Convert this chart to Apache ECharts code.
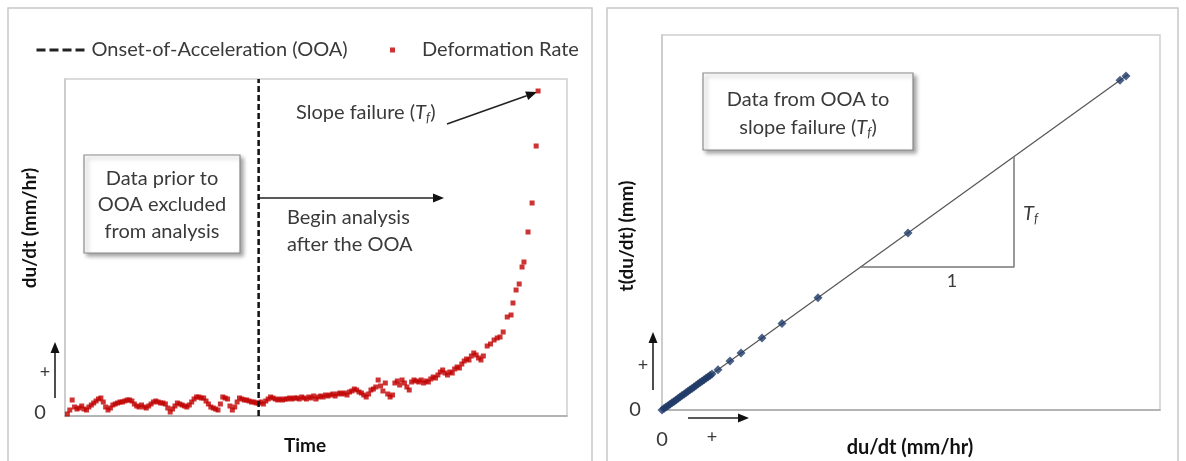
<!DOCTYPE html>
<html>
<head>
<meta charset="utf-8">
<script src="https://cdn.jsdelivr.net/npm/echarts@6/dist/echarts.min.js"></script>
<style>
  html, body { margin: 0; padding: 0; background: #fff; }
  #chart { width: 1186px; height: 461px; }
</style>
</head>
<body>
<div id="chart"></div>
<script>
// left panel: deformation rate vs time (time in steps, rate in relative units)
const ooaTime = 81
const rateDense = [ // t = 1 .. 175
  2, 6, 16, 9, 7, 8, 10, 7, 6, 9, 11, 13, 15, 17, 18, 14, 9, 6, 8, 11,
  12, 13, 14, 14, 15, 16, 16, 15, 12, 10, 9, 11, 9, 8, 10, 12, 14, 15, 14, 13,
  13, 12, 8, 4, 7, 10, 13, 12, 11, 10, 9, 11, 14, 17, 19, 19, 18, 18, 15, 12,
  9, 8, 7, 6, 12, 19, 18, 17, 10, 6, 9, 14, 18, 17, 16, 16, 15, 14, 14, 13,
  13, 14, 12, 15, 17, 19, 18, 17, 16, 17, 16, 17, 17, 18, 17, 18, 18, 17, 19, 18,
  17, 19, 18, 20, 17, 19, 20, 19, 21, 20, 21, 22, 20, 22, 23, 22, 23, 21, 24, 25,
  27, 26, 24, 23, 21, 19, 22, 26, 27, 29, 36, 30, 25, 33, 22, 19, 21, 33, 35, 31,
  36, 33, 29, 26, 34, 36, 35, 34, 36, 33, 35, 34, 37, 39, 38, 41, 44, 46, 43, 41,
  44, 43, 47, 49, 48, 52, 55, 57, 56, 60, 63, 61, 58, 56, 60
]
const tailTime = [176.6, 178, 179.5, 180.8, 182, 183.3, 185, 186.6, 187.4, 188.7, 190, 191.2, 192, 193.7, 195.4, 197.1, 197.9]
const tailRate = [70, 72, 76, 78, 79, 84, 99, 101, 113, 126, 132, 149, 154, 184, 213, 270, 325]

// right panel: t(du/dt) vs du/dt
const rightX = [0, 2, 4, 6, 8, 10, 12, 14, 16, 18, 20, 22, 24, 26, 28, 30, 32, 34, 36, 38, 40, 42, 44, 46, 48, 50, 56, 68, 79, 100, 120, 156, 246, 458, 464]
const rightY = [0, 1.4, 2.9, 4.3, 5.8, 7.2, 8.6, 10.1, 11.5, 13, 14.4, 15.8, 17.3, 18.7, 20.2, 21.6, 23, 24.5, 25.9, 27.4, 28.8, 30.2, 31.7, 33.1, 34.6, 36, 40.3, 49, 56.9, 72, 86.4, 112.3, 177.1, 329.8, 334.1]
const trendX = [0, 466]
const trendY = [0, 335.5]
const triX = [198, 352, 352]
const triY = [143, 143, 253.4]

const FONT = 'Lato'
const rateData = rateDense.map((v, i) => [i + 1, v]).concat(tailTime.map((t, i) => [t, tailRate[i]]))
const rightData = rightX.map((x, i) => [x, rightY[i]])

function arrow(x1, y1, x2, y2) {
  const a = Math.atan2(y2 - y1, x2 - x1), L = 11, W = 4.5
  const bx = x2 - L * Math.cos(a), by = y2 - L * Math.sin(a)
  return [
    { type: 'line', shape: { x1, y1, x2: bx, y2: by }, style: { stroke: '#222', lineWidth: 1.6 } },
    { type: 'polygon', shape: { points: [[x2, y2], [bx - W * Math.sin(a), by + W * Math.cos(a)], [bx + W * Math.sin(a), by - W * Math.cos(a)]] }, style: { fill: '#111' } }
  ]
}
function txt(x, y, text, extra, rot) {
  return { type: 'text', x, y, rotation: rot || 0, style: Object.assign({ text, font: '20px ' + FONT, fill: '#3a3a3a', align: 'center', verticalAlign: 'middle' }, extra || {}) }
}
function box(x, y, w, h) {
  return { type: 'rect', shape: { x, y, width: w, height: h }, style: { fill: '#fff', stroke: '#8a8a8a', lineWidth: 1.2, shadowBlur: 4, shadowOffsetX: 3, shadowOffsetY: 3, shadowColor: 'rgba(0,0,0,0.35)' } }
}
function tf(x, y, prefix, align) {
  return { type: 'text', x, y, style: {
    text: (prefix ? '{a|' + prefix + '(}' : '') + '{i|T}{s|f}' + (prefix ? '{a|)}' : ''), align: align || 'left', verticalAlign: 'middle',
    rich: { a: { font: '20px ' + FONT, fill: '#3a3a3a' }, i: { font: 'italic 20px ' + FONT, fill: '#3a3a3a' },
            s: { font: 'italic 13px ' + FONT, fill: '#3a3a3a', padding: [9, 0, 0, 0] } } } }
}

const chart = echarts.init(document.getElementById('chart'))
chart.setOption({
  animation: false,
  legend: [
    { data: [{ name: 'Onset-of-Acceleration (OOA)', itemStyle: { opacity: 0 } }], left: 30, top: 35, itemWidth: 52, itemHeight: 14,
      lineStyle: { width: 3, type: [9, 4], color: '#222' }, itemGap: 0,
      textStyle: { fontFamily: FONT, fontSize: 20, color: '#3a3a3a', padding: [0, 0, 0, -2] } },
    { data: [{ name: 'Deformation Rate', icon: 'rect' }], left: 385, top: 35, itemWidth: 5, itemHeight: 5,
      textStyle: { fontFamily: FONT, fontSize: 20, color: '#3a3a3a', padding: [0, 0, 0, 22] } }
  ],
  grid: [
    { left: 65, top: 79, width: 502, height: 337, show: true, borderColor: '#cfcfcf', borderWidth: 1.5 },
    { left: 662, top: 35, width: 498, height: 375, show: true, borderColor: '#cfcfcf', borderWidth: 1.5 }
  ],
  xAxis: [
    { gridIndex: 0, type: 'value', min: 0, max: 210, axisLine: { lineStyle: { color: '#a8a8a8', width: 1.5 } },
      axisTick: { show: false }, axisLabel: { show: false }, splitLine: { show: false } },
    { gridIndex: 1, type: 'value', min: 0, max: 498, axisLine: { lineStyle: { color: '#a8a8a8', width: 1.5 } },
      axisTick: { show: false }, axisLabel: { show: false }, splitLine: { show: false } }
  ],
  yAxis: [
    { gridIndex: 0, type: 'value', min: 0, max: 337, axisLine: { show: true, lineStyle: { color: '#c8c8c8', width: 1.5 } },
      axisTick: { show: false }, axisLabel: { show: false }, splitLine: { show: false } },
    { gridIndex: 1, type: 'value', min: 0, max: 375, axisLine: { show: true, lineStyle: { color: '#c8c8c8', width: 1.5 } },
      axisTick: { show: false }, axisLabel: { show: false }, splitLine: { show: false } }
  ],
  series: [
    {
      name: 'Onset-of-Acceleration (OOA)', type: 'line', xAxisIndex: 0, yAxisIndex: 0,
      symbol: 'none', data: [[ooaTime, 0], [ooaTime, 337]],
      lineStyle: { color: '#111', width: 2.5, type: [6, 3] }, itemStyle: { color: '#111' }, z: 3
    },
    {
      name: 'Deformation Rate', type: 'scatter', xAxisIndex: 0, yAxisIndex: 0,
      symbol: 'rect', symbolSize: 5, data: rateData, itemStyle: { color: '#c00000' }
    },
    {
      name: 'trend', type: 'line', xAxisIndex: 1, yAxisIndex: 1, symbol: 'none',
      data: trendX.map((x, i) => [x, trendY[i]]), lineStyle: { color: '#555', width: 1.2 }
    },
    {
      name: 'slope', type: 'line', xAxisIndex: 1, yAxisIndex: 1, symbol: 'none',
      data: triX.map((x, i) => [x, triY[i]]), lineStyle: { color: '#777', width: 1.5 }
    },
    {
      name: 'tdudt', type: 'scatter', xAxisIndex: 1, yAxisIndex: 1,
      symbol: 'diamond', symbolSize: 9, data: rightData, itemStyle: { color: '#1f3a68' }, z: 4
    }
  ],
  graphic: [
    // panel frames
    { type: 'rect', shape: { x: 8, y: 8, width: 584, height: 470 }, style: { fill: 'none', stroke: '#c8c8c8', lineWidth: 1.5 } },
    { type: 'rect', shape: { x: 607, y: 8, width: 571, height: 470 }, style: { fill: 'none', stroke: '#c8c8c8', lineWidth: 1.5 } },
    // left panel annotations
    txt(30, 228, 'du/dt (mm/hr)', { font: 'bold 19px ' + FONT, fill: '#111' }, Math.PI / 2),
    txt(305, 446, 'Time', { font: 'bold 19px ' + FONT, fill: '#111' }),
    txt(40, 413, '0'), txt(45, 372, '+', { font: '18px ' + FONT }),
    ...arrow(55, 398, 55, 342),
    box(84, 155, 156, 98),
    txt(162, 179, 'Data prior to'), txt(162, 205, 'OOA excluded'), txt(162, 232, 'from analysis'),
    ...arrow(259, 198, 444, 198),
    txt(287, 218, 'Begin analysis', { align: 'left' }), txt(287, 245, 'after the OOA', { align: 'left' }),
    tf(296, 113, 'Slope failure '),
    ...arrow(447, 124, 537, 92),
    // right panel annotations
    txt(627, 236, 't(du/dt) (mm)', { font: 'bold 19px ' + FONT, fill: '#111' }, Math.PI / 2),
    txt(910, 448, 'du/dt (mm/hr)', { font: 'bold 20px ' + FONT, fill: '#111' }),
    txt(635, 410, '0'), txt(643, 365, '+', { font: '18px ' + FONT }), txt(662, 440, '0'), txt(712, 437, '+', { font: '18px ' + FONT }),
    ...arrow(653, 390, 653, 332),
    ...arrow(688, 418, 749, 418),
    box(703, 73, 210, 77),
    txt(808, 100, 'Data from OOA to'),
    tf(808, 128, 'slope failure ', 'center'),
    txt(952, 281, '1', { font: '18px ' + FONT }),
    tf(1023, 214)
  ]
})
</script>
</body>
</html>
